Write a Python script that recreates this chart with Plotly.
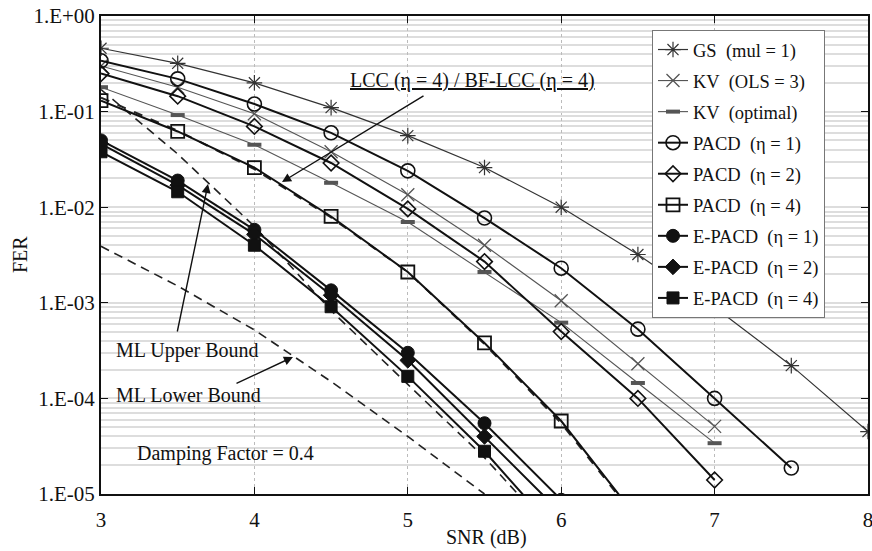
import plotly.graph_objects as go

# ---------------- data ----------------
snr_gs = [3, 3.5, 4, 4.5, 5, 5.5, 6, 6.5, 7, 7.5, 8]
fer_gs = [0.46, 0.32, 0.2, 0.11, 0.056, 0.026, 0.01, 0.0032, 0.0009, 0.00022, 4.5e-5]

snr_kv3 = [3, 3.5, 4, 4.5, 5, 5.5, 6, 6.5, 7]
fer_kv3 = [0.3, 0.18, 0.095, 0.038, 0.0135, 0.004, 0.00105, 0.00023, 5.1e-5]

snr_kvopt = [3, 3.5, 4, 4.5, 5, 5.5, 6, 6.5, 7]
fer_kvopt = [0.18, 0.092, 0.045, 0.018, 0.007, 0.0021, 0.00062, 0.000145, 3.4e-5]

snr_p1 = [3, 3.5, 4, 4.5, 5, 5.5, 6, 6.5, 7, 7.5]
fer_p1 = [0.34, 0.22, 0.12, 0.06, 0.024, 0.0077, 0.0023, 0.00053, 0.0001, 1.87e-5]

snr_p2 = [3, 3.5, 4, 4.5, 5, 5.5, 6, 6.5, 7]
fer_p2 = [0.25, 0.145, 0.07, 0.029, 0.0096, 0.0027, 0.0005, 0.0001, 1.4e-5]

snr_p4 = [3, 3.5, 4, 4.5, 5, 5.5, 6, 6.5]
fer_p4 = [0.13, 0.062, 0.026, 0.008, 0.0021, 0.00038, 5.8e-5, 5.5e-6]

snr_lcc = [3, 3.5, 4, 4.5, 5, 5.5, 6, 6.5]
fer_lcc = [0.14, 0.063, 0.025, 0.0078, 0.0021, 0.00037, 5.5e-5, 5.3e-6]

snr_e1 = [3, 3.5, 4, 4.5, 5, 5.5, 6]
fer_e1 = [0.05, 0.019, 0.0058, 0.00135, 0.0003, 5.5e-5, 8.7e-6]

snr_e2 = [3, 3.5, 4, 4.5, 5, 5.5, 6]
fer_e2 = [0.046, 0.017, 0.0052, 0.0012, 0.00025, 4e-5, 6.3e-6]

snr_e4 = [3, 3.5, 4, 4.5, 5, 5.5, 6]
fer_e4 = [0.038, 0.0145, 0.004, 0.00091, 0.00017, 2.8e-5, 3.5e-6]

snr_mlu = [3, 3.5, 4, 4.5, 5, 5.5, 6]
fer_mlu = [0.17, 0.036, 0.0063, 0.00083, 0.00014, 2.4e-5, 3.2e-6]

snr_mll = [3, 3.5, 4, 4.5, 5, 5.5]
fer_mll = [0.0039, 0.0015, 0.00052, 0.00015, 4e-5, 1e-5]

ytick_vals = [1, 0.1, 0.01, 0.001, 0.0001, 0.00001]
ytick_text = ["1.E+00", "1.E-01", "1.E-02", "1.E-03", "1.E-04", "1.E-05"]
xtick_vals = [3, 4, 5, 6, 7, 8]

FONT = "Liberation Serif, Times New Roman, serif"

fig = go.Figure()

# non-legend dashed curves
fig.add_trace(go.Scatter(x=snr_mlu, y=fer_mlu, mode="lines", showlegend=False,
                         line=dict(color="#222", width=1.6, dash="9px,6px")))
fig.add_trace(go.Scatter(x=snr_mll, y=fer_mll, mode="lines", showlegend=False,
                         line=dict(color="#222", width=1.6, dash="9px,6px")))
fig.add_trace(go.Scatter(x=snr_lcc, y=fer_lcc, mode="lines", showlegend=False,
                         line=dict(color="#222", width=2, dash="dash")))

def add(x, y, name, symbol, lw, lc, msize, mlw):
    fig.add_trace(go.Scatter(
        x=x, y=y, name=name, mode="lines+markers", legendgroup=name,
        line=dict(color=lc, width=lw),
        marker=dict(symbol=symbol, size=msize, color=lc,
                    line=dict(color=lc, width=mlw)),
    ))

add(snr_gs, fer_gs, "GS  (mul = 1)", "asterisk-open", 1.2, "#333", 13, 1.2)
add(snr_kv3, fer_kv3, "KV  (OLS = 3)", "x-thin-open", 1.1, "#555", 13, 1.3)
add(snr_kvopt, fer_kvopt, "KV  (optimal)", "line-ew-open", 1.1, "#555", 10, 4)
add(snr_p1, fer_p1, "PACD  (η = 1)", "circle-open", 2, "#111", 14, 1.6)
add(snr_p2, fer_p2, "PACD  (η = 2)", "diamond-open", 2, "#111", 12, 1.6)
add(snr_p4, fer_p4, "PACD  (η = 4)", "square-open", 2, "#111", 13, 1.8)
add(snr_e1, fer_e1, "E-PACD  (η = 1)", "circle", 2, "#111", 13, 1)
add(snr_e2, fer_e2, "E-PACD  (η = 2)", "diamond", 2, "#111", 12, 1)
add(snr_e4, fer_e4, "E-PACD  (η = 4)", "square", 2, "#111", 12, 1)

PX_L, PX_R, PX_T, PX_B = 101, 868, 16, 494

def dx(px):
    return 3 + (px - PX_L) / ((PX_R - PX_L) / 5)

def dy(py):
    return -(py - PX_T) / ((PX_B - PX_T) / 5)

ann = []
def text(px, py, s):
    ann.append(dict(x=dx(px), y=dy(py), xref="x", yref="y", text=s, showarrow=False,
                    xanchor="center", yanchor="middle",
                    font=dict(family=FONT, size=20, color="#111")))

def arrow(tx, ty, sx, sy):
    ann.append(dict(x=dx(tx), y=dy(ty), ax=dx(sx), ay=dy(sy), xref="x", yref="y",
                    axref="x", ayref="y", text="", showarrow=True, arrowhead=2,
                    arrowsize=1.3, arrowwidth=1.4, arrowcolor="#111"))

text(472, 80, "<u>LCC (η = 4) / BF-LCC (η = 4)</u>")
arrow(282, 182, 425, 95)
text(187, 350, "ML Upper Bound")
arrow(208, 184, 177, 333)
text(188, 395, "ML Lower Bound")
arrow(293, 357, 235, 384)
text(225, 453, "Damping Factor = 0.4")

ann.append(dict(x=(20 - PX_L) / (PX_R - PX_L), y=0.5, xref="paper", yref="paper",
                xanchor="center", yanchor="middle",
                text="FER", textangle=-90, showarrow=False,
                font=dict(family=FONT, size=20, color="#111")))
ann.append(dict(x=(486 - PX_L) / (PX_R - PX_L), y=(PX_B - 537) / (PX_B - PX_T),
                xref="paper", yref="paper", xanchor="center", yanchor="middle",
                text="SNR (dB)", showarrow=False,
                font=dict(family=FONT, size=20, color="#111")))

fig.update_layout(
    width=872, height=551, autosize=False,
    margin=dict(l=PX_L, r=872 - PX_R, t=PX_T, b=551 - PX_B, autoexpand=False),
    paper_bgcolor="white", plot_bgcolor="white",
    font=dict(family=FONT, size=18, color="#111"),
    annotations=ann,
    legend=dict(x=(652 - PX_L) / (PX_R - PX_L), y=(PX_B - 30) / (PX_B - PX_T),
                xanchor="left", yanchor="top", bgcolor="white",
                bordercolor="#777", borderwidth=1,
                traceorder="grouped", tracegroupgap=4,
                font=dict(family=FONT, size=18.5, color="#111")),
)

fig.update_xaxes(type="linear", range=[3, 8], tickvals=xtick_vals,
                 ticks="inside", ticklen=7, tickcolor="#111", mirror="ticks",
                 showline=True, linecolor="#111", linewidth=2,
                 showgrid=True, gridcolor="#bbb", griddash="dot", gridwidth=1,
                 ticklabelstandoff=6, automargin=False, ticklabeloverflow="allow",
                 zeroline=False, tickfont=dict(family=FONT, size=21))
fig.update_yaxes(type="log", range=[-5, 0], tickvals=ytick_vals, ticktext=ytick_text,
                 ticks="inside", ticklen=7, tickcolor="#111", mirror="ticks",
                 showline=True, linecolor="#111", linewidth=2,
                 showgrid=True, gridcolor="#ddd", gridwidth=1.5, automargin=False,
                 minor=dict(dtick="D1", showgrid=True, gridcolor="#ddd", gridwidth=1.5, ticks=""),
                 zeroline=False, tickfont=dict(family=FONT, size=21))

fig.write_html("out.html")
